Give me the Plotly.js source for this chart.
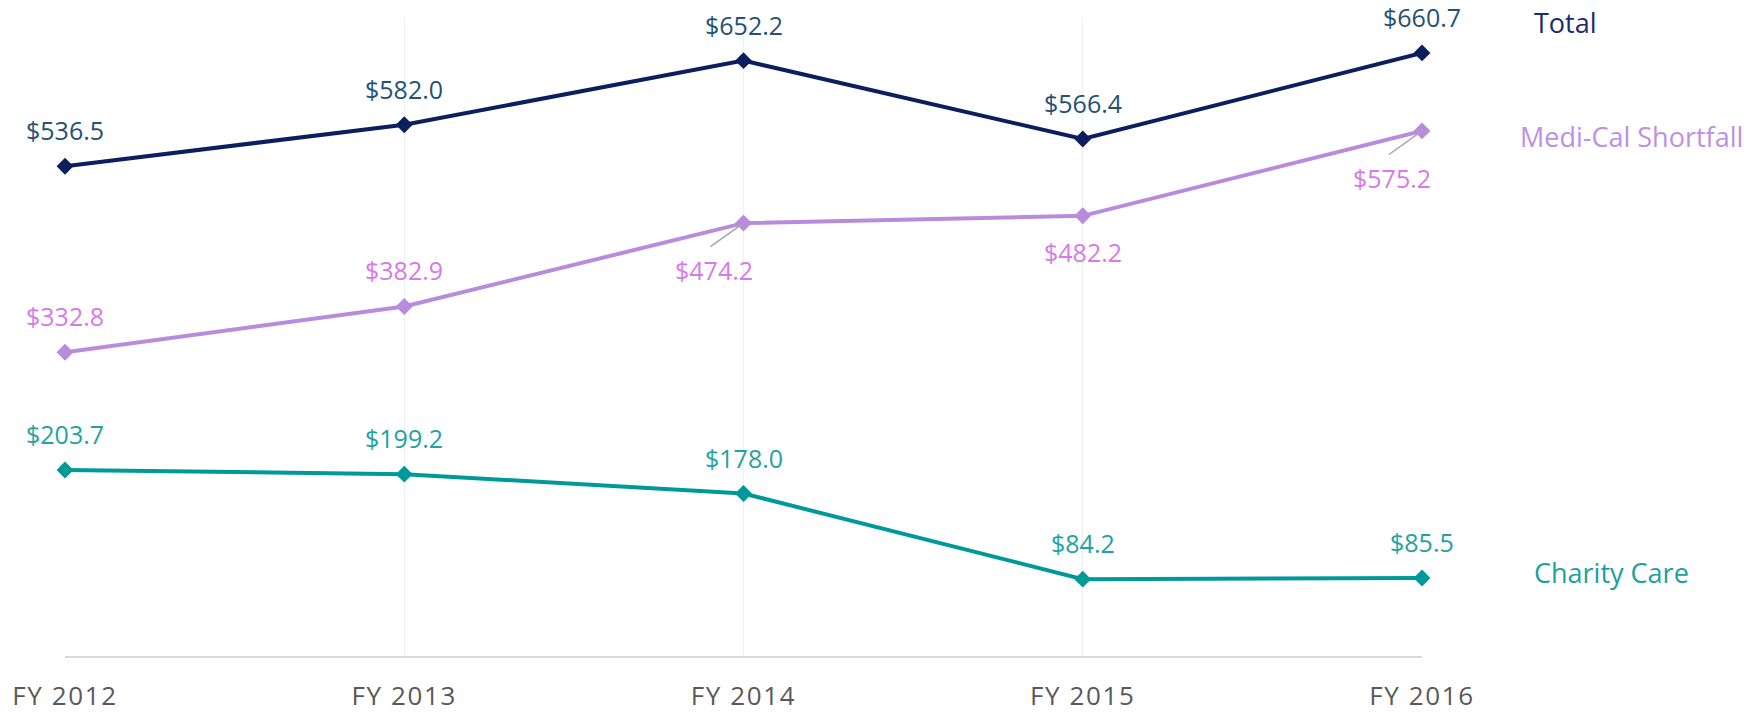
<!DOCTYPE html>
<html>
<head>
<meta charset="utf-8">
<script src="https://cdn.plot.ly/plotly-3.0.1.min.js"></script>
<style>
  html, body { margin: 0; padding: 0; background: #ffffff; }
  #chart { width: 1744px; height: 714px; }
  .xtick text { letter-spacing: 1.6px; }
</style>
</head>
<body>
<div id="chart"></div>
<script>
// ---- data ----
const years = ["FY 2012", "FY 2013", "FY 2014", "FY 2015", "FY 2016"];
const totalValues = [536.5, 582.0, 652.2, 566.4, 660.7];
const mediCalValues = [332.8, 382.9, 474.2, 482.2, 575.2];
const charityValues = [203.7, 199.2, 178.0, 84.2, 85.5];
const seriesNames = ["Total", "Medi-Cal Shortfall", "Charity Care"];

// ---- styles ----
const FONT = "Open Sans, Noto Sans, sans-serif";
const lineColors = ["#0b1f5e", "#b98bdc", "#00999a"];
const labelColors = ["#255173", "#d67ae8", "#22a3a3"];
const legendColors = ["#1b2b6b", "#c08fe2", "#1ba1a1"];
// label placement per point: "above", "below", "leader"
const placements = [
  ["above", "above", "above", "above", "above"],
  ["above", "above", "leader", "below", "leader"],
  ["above", "above", "above", "above", "above"]
];
const allValues = [totalValues, mediCalValues, charityValues];

const traces = allValues.map((vals, i) => ({
  type: "scatter",
  mode: "lines+markers",
  x: years,
  y: vals,
  name: seriesNames[i],
  line: { color: lineColors[i], width: 4 },
  marker: { symbol: "diamond", size: 13, color: lineColors[i] },
  cliponaxis: false,
  hoverinfo: "skip",
  showlegend: false
}));

const annotations = [];
allValues.forEach((vals, i) => {
  vals.forEach((v, j) => {
    const txt = "$" + v.toFixed(1);
    const p = placements[i][j];
    const base = {
      x: years[j], y: v, xref: "x", yref: "y",
      text: txt, showarrow: false, yanchor: "middle", xanchor: "center",
      font: { family: FONT, size: 25, color: labelColors[i] }
    };
    if (p === "above") {
      annotations.push(Object.assign(base, { yshift: 36 }));
    } else if (p === "below") {
      annotations.push(Object.assign(base, { yshift: -36 }));
    } else {
      annotations.push(Object.assign(base, { yshift: -47, xshift: -30 }));
      // leader line only
      annotations.push({
        x: years[j], y: v, xref: "x", yref: "y", text: " ",
        showarrow: true, arrowhead: 0, arrowwidth: 1.5, arrowcolor: "#a6a6a6",
        ax: -35, ay: 25, standoff: 0,
        font: { family: FONT, size: 2 }
      });
    }
  });
});

// series name labels on the right
const legendPos = [
  { x: 1.081, y: 0.992 },
  { x: 1.0705, y: 0.813 },
  { x: 1.081, y: 0.131 }
];
seriesNames.forEach((n, i) => {
  annotations.push({
    xref: "paper", yref: "paper", x: legendPos[i].x, y: legendPos[i].y,
    xanchor: "left", yanchor: "middle", showarrow: false, text: n,
    font: { family: FONT, size: 27, color: legendColors[i] }
  });
});

const layout = {
  width: 1744,
  height: 714,
  margin: { l: 65, r: 322, t: 17, b: 58 },
  paper_bgcolor: "#ffffff",
  plot_bgcolor: "#ffffff",
  showlegend: false,
  xaxis: {
    type: "category",
    categoryorder: "array",
    categoryarray: years,
    range: [0, 4],
    showgrid: true,
    gridcolor: "#efefef",
    gridwidth: 1,
    showline: true,
    linecolor: "#d9d9d9",
    linewidth: 2,
    zeroline: false,
    ticks: "outside",
    ticklen: 16,
    tickcolor: "rgba(0,0,0,0)",
    tickfont: { family: FONT, size: 26, color: "#595959" },
    fixedrange: true
  },
  yaxis: {
    range: [0, 700],
    showgrid: false,
    zeroline: false,
    showline: false,
    showticklabels: false,
    ticks: "",
    fixedrange: true
  },
  annotations: annotations
};

Plotly.newPlot("chart", traces, layout, { staticPlot: true, displayModeBar: false });
</script>
</body>
</html>
